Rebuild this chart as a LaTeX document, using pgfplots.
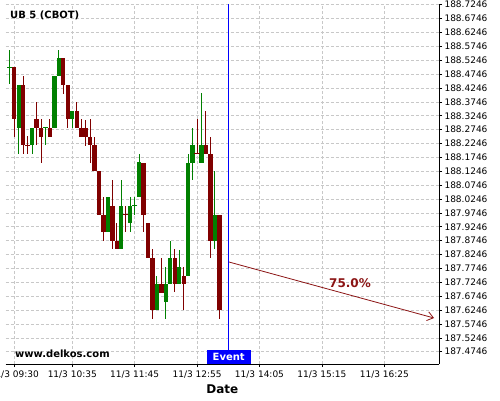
\documentclass[border=0pt]{standalone}
\usepackage{fontspec}
\setmainfont{DejaVu Sans}
\usepackage{pgfplots}
\pgfplotsset{compat=1.18}
\usepackage{pgfplotstable}
\usetikzlibrary{arrows.meta}
\definecolor{cgreen}{RGB}{0,128,0}
\definecolor{cred}{RGB}{128,0,0}
\definecolor{gridgray}{RGB}{200,200,200}
\definecolor{arrowred}{RGB}{139,20,20}

\pgfplotstableread{
i o h l c
-1 188.5 188.5625 188.4375 188.5
1 188.28125 188.4375 188.1875 188.4375
4 188.21875 188.28125 188.1875 188.28125
7 188.28125 188.28125 188.21875 188.28125
9 188.28125 188.46875 188.28125 188.46875
10 188.46875 188.5625 188.46875 188.53125
13 188.3125 188.34375 188.28125 188.34375
21 187.90625 188.03125 187.90625 188.03125
24 187.84375 188.09375 187.84375 188.0
26 187.9375 188.03125 187.90625 188.0
27 188.0 188.03125 187.96875 188.0
28 188.03125 188.1875 188.03125 188.15625
32 187.625 187.75 187.625 187.71875
34 187.65625 187.78125 187.59375 187.71875
35 187.71875 187.875 187.71875 187.8125
37 187.71875 187.84375 187.71875 187.78125
39 187.75 188.1875 187.75 188.15625
40 188.15625 188.28125 188.09375 188.21875
42 188.15625 188.40625 188.15625 188.21875
45 187.875 188.125 187.84375 187.96875
}\greendata

\pgfplotstableread{
i o h l c
0 188.5 188.5 188.25 188.3125
2 188.4375 188.46875 188.1875 188.21875
3 188.21875 188.25 188.1875 188.21875
5 188.3125 188.375 188.21875 188.28125
6 188.28125 188.3125 188.15625 188.25
8 188.28125 188.3125 188.25 188.25
11 188.53125 188.53125 188.40625 188.4375
12 188.4375 188.4375 188.28125 188.3125
14 188.34375 188.375 188.28125 188.28125
15 188.28125 188.3125 188.25 188.25
16 188.28125 188.3125 188.21875 188.25
17 188.25 188.3125 188.15625 188.21875
18 188.21875 188.25 188.125 188.125
19 188.125 188.125 187.96875 187.96875
20 187.96875 188.03125 187.875 187.90625
22 188.0 188.09375 187.84375 187.875
23 187.875 187.9375 187.84375 187.84375
25 187.96875 188.0 187.90625 187.96875
29 188.15625 188.15625 187.90625 187.96875
30 187.9375 187.9375 187.8125 187.8125
31 187.8125 187.84375 187.59375 187.625
33 187.71875 187.8125 187.6875 187.6875
36 187.8125 187.84375 187.6875 187.71875
38 187.75 187.78125 187.625 187.71875
41 188.1875 188.3125 188.1875 188.1875
43 188.21875 188.34375 188.1875 188.1875
44 188.1875 188.25 187.8125 187.875
46 187.96875 187.96875 187.59375 187.625
}\reddata

\begin{document}
\begin{tikzpicture}
\path[use as bounding box] (-5.7pt,-36pt) rectangle (494.3pt,364pt);
\begin{axis}[
  at={(0pt,0pt)}, anchor=south west,
  scale only axis, width=433.3pt, height=360pt,
  xmin=-1.93, xmax=95.27, ymin=187.4303, ymax=188.7271,
  axis x line*=bottom, axis y line*=right,
  axis line style={black, line width=1pt},
  tick align=outside,
  major tick length=3pt, minor tick length=2pt,
  tick style={black, line width=0.6pt},
  xtick={0,13,27,41,55,69,83},
  xticklabels={11/3 09:30,11/3 10:35,11/3 11:45,11/3 12:55,11/3 14:05,11/3 15:15,11/3 16:25},
  minor x tick num=3,
  ytick={187.4746,187.5246,...,188.7246},
  minor y tick num=4,
  scaled y ticks=false,
  /pgf/number format/fixed,
  /pgf/number format/fixed zerofill,
  /pgf/number format/precision=4,
  /pgf/number format/1000 sep={},
  /pgf/number format/assume math mode=true,
  yticklabel style={anchor=west, xshift=-1pt},
  ticklabel style={font=\fontsize{9}{11}\selectfont},
  grid=major,
  major grid style={gridgray, dash pattern=on 3pt off 2pt, line width=0.6pt},
  xlabel={Date},
  xlabel style={font=\fontsize{12}{14}\selectfont\bfseries, at={(axis description cs:0.5,-0.0714)}, anchor=center},
  clip=false,
]
% wicks
\addplot[draw=none, mark=none, forget plot,
  error bars/.cd, y dir=both, y explicit, error mark=none,
  error bar style={draw=cgreen, line width=1pt, solid}]
  table[x=i, y expr={(\thisrow{h}+\thisrow{l})/2}, y error expr={(\thisrow{h}-\thisrow{l})/2}] {\greendata};
\addplot[draw=none, mark=none, forget plot,
  error bars/.cd, y dir=both, y explicit, error mark=none,
  error bar style={draw=cred, line width=1pt, solid}]
  table[x=i, y expr={(\thisrow{h}+\thisrow{l})/2}, y error expr={(\thisrow{h}-\thisrow{l})/2}] {\reddata};
% bodies
\addplot[draw=none, mark=none, forget plot,
  error bars/.cd, y dir=both, y explicit, error mark=none,
  error bar style={draw=cgreen, line width=4.3pt, solid}]
  table[x=i, y expr={(\thisrow{o}+\thisrow{c})/2}, y error expr={abs(\thisrow{o}-\thisrow{c})/2}] {\greendata};
\addplot[draw=none, mark=none, forget plot,
  error bars/.cd, y dir=both, y explicit, error mark=none,
  error bar style={draw=cred, line width=4.3pt, solid}]
  table[x=i, y expr={(\thisrow{o}+\thisrow{c})/2}, y error expr={abs(\thisrow{o}-\thisrow{c})/2}] {\reddata};
% doji bars
\addplot[only marks, mark=-, mark size=2.6pt, mark options={draw=cgreen, line width=1pt}]
  coordinates {(-1,188.5) (7,188.28125) (27,188.0)};
\addplot[only marks, mark=-, mark size=2.6pt, mark options={draw=cred, line width=1pt}]
  coordinates {(3,188.21875) (25,187.96875) (41,188.1875)};
% event line
\addplot[blue, line width=1pt] coordinates {(48.1,187.4303) (48.1,188.7271)};
% forecast arrow
\addplot[arrowred, line width=0.8pt, -{Straight Barb[length=6pt,width=9pt]}]
  coordinates {(48.16,187.7977) (94.15,187.5960)};
\node[text=arrowred, font=\fontsize{12}{14}\selectfont\bfseries] at (axis cs:75.3,187.7221) {75.0\%};
\node[fill=blue, text=white, font=\fontsize{10}{12}\selectfont\bfseries, minimum width=44pt, minimum height=14pt, inner sep=0pt, anchor=south] at (axis cs:48.1,187.4303) {Event};
\node[anchor=west, inner sep=0pt, font=\fontsize{10}{12}\selectfont\bfseries] at (axis description cs:0.0099,0.9675) {UB 5 (CBOT)};
\node[anchor=west, inner sep=0pt, font=\fontsize{10}{12}\selectfont\bfseries] at (axis description cs:0.0215,0.0286) {www.delkos.com};
\end{axis}
\end{tikzpicture}
\end{document}
